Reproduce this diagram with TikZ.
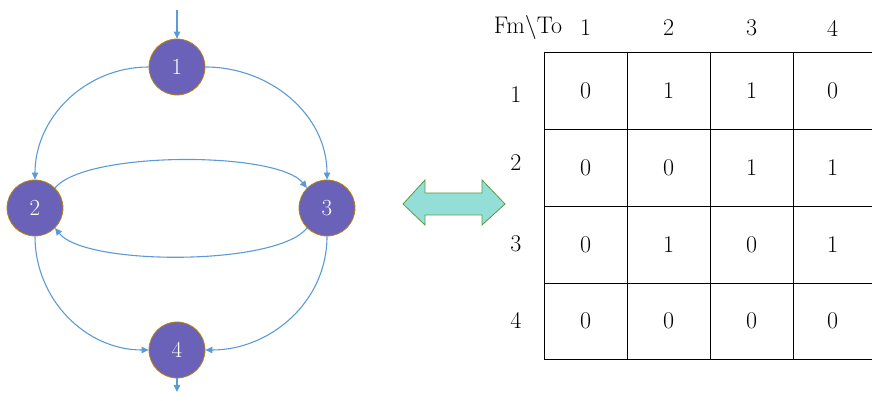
\documentclass[tikz,border=0pt]{standalone}
\usepackage{fontspec}
\usetikzlibrary{arrows.meta}
\definecolor{nodefill}{HTML}{6A62B8}
\definecolor{nodeborder}{HTML}{B8860B}
\definecolor{edgecol}{HTML}{5B9BD5}
\definecolor{arrfill}{HTML}{93DFD8}
\definecolor{arrborder}{HTML}{5E9A3E}
\begin{document}
\begin{tikzpicture}[x=1pt,y=1pt,
  vertex/.style={circle,minimum size=56pt,inner sep=0pt,fill=nodefill,draw=nodeborder,line width=0.8pt,text=white,font=\fontsize{23}{25}\selectfont},
  edge/.style={draw=edgecol,line width=1.1pt,-{Triangle[length=7pt,width=6.5pt]}},
  lbl/.style={inner sep=0pt,font=\fontsize{24}{26}\selectfont},
  grid/.style={draw=black,line width=0.7pt}]
\useasboundingbox (0,0) rectangle (872,401);
% graph
\node[vertex] (n1) at (177,334) {1};
\node[vertex] (n2) at (35,193) {2};
\node[vertex] (n3) at (327,193) {3};
\node[vertex] (n4) at (177,51) {4};
\coordinate (in) at (177,391);
\coordinate (out) at (177,9);
\draw[edge] (in) -- (n1.north);
\draw[edge] (n4.south) -- (out);
\draw[edge] (n1.west) to[out=180,in=90] (n2.north);
\draw[edge] (n1.east) to[out=0,in=90] (n3.north);
\draw[edge] (n2.south) to[out=-90,in=180] (n4.west);
\draw[edge] (n3.south) to[out=-90,in=0] (n4.east);
\draw[edge] (n2.45) .. controls +(30,37) and +(-30,37) .. (n3.135);
\draw[edge] (n3.225) .. controls +(-30,-38) and +(30,-38) .. (n2.-45);
% double arrow
\draw[fill=arrfill,draw=arrborder,line width=0.8pt,line join=miter]
  (403,197) -- (425,221) -- (425,208) -- (482,208) -- (482,221) -- (505,197)
  -- (482,176) -- (482,186) -- (425,186) -- (425,176) -- cycle;
% table grid
\foreach \x in {544,627,710,793} \draw[grid] (\x,349) -- (\x,42);
\foreach \y in {349,272,195,118,42} \draw[grid] (544,\y) -- (872,\y);
% headers
\node[lbl] (hdr) at (528,373) {Fm\textbackslash To};
\foreach \c/\x in {1/585.5,2/668.5,3/751.5,4/832.5}
  \node[lbl] (col\c) at (\x,373) {\c};
\foreach \r/\y in {1/306,2/238,3/157,4/81}
  \node[lbl] (row\r) at (516,\y) {\r};
% cells
\foreach \r/\y/\vals in {1/310.5/{0,1,1,0},2/233.5/{0,0,1,1},3/156.5/{0,1,0,1},4/80/{0,0,0,0}}{
  \foreach \v [count=\c] in \vals {
    \pgfmathsetmacro{\xx}{\c==4 ? 832.5 : 502.5+83*\c}
    \node[lbl] (c\r\c) at (\xx,\y) {\v};
  }
}
\end{tikzpicture}
\end{document}
